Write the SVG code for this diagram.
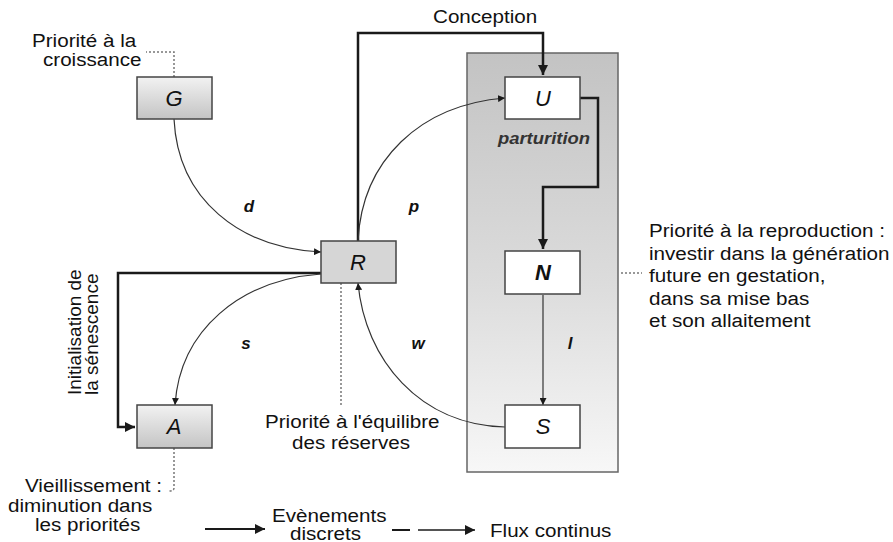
<svg xmlns="http://www.w3.org/2000/svg" width="893" height="542" viewBox="0 0 893 542">
<defs>
<linearGradient id="gBox" x1="0" y1="0" x2="0" y2="1">
<stop offset="0" stop-color="#f2f2f2"/>
<stop offset="1" stop-color="#c4c4c4"/>
</linearGradient>
<linearGradient id="gBig" x1="0" y1="0" x2="0" y2="1">
<stop offset="0" stop-color="#c3c3c3"/>
<stop offset="0.55" stop-color="#dcdcdc"/>
<stop offset="1" stop-color="#f7f7f7"/>
</linearGradient>
<marker id="ah" viewBox="0 0 10 10" refX="10" refY="5" markerWidth="7" markerHeight="7" markerUnits="userSpaceOnUse" orient="auto">
<path d="M0,0 L10,5 L0,10 z" fill="#1a1a1a"/>
</marker>
<marker id="ahL" viewBox="0 0 10 10" refX="10" refY="5" markerWidth="10" markerHeight="10" markerUnits="userSpaceOnUse" orient="auto">
<path d="M0,0 L10,5 L0,10 z" fill="#1a1a1a"/>
</marker>
</defs>
<style>
text{font-family:"Liberation Sans",Arial,sans-serif;fill:#111;}
.lbl{font-size:19px;}
.nd{font-size:22px;font-style:italic;text-anchor:middle;}
.ndb{font-size:22px;font-style:italic;font-weight:bold;text-anchor:middle;}
.var{font-size:17px;font-style:italic;font-weight:bold;text-anchor:middle;}
.box{stroke:#444;stroke-width:1.5;}
.thick{fill:none;stroke:#1a1a1a;stroke-width:2.5;}
.thin{fill:none;stroke:#333;stroke-width:1.2;}
.dot{fill:none;stroke:#777;stroke-width:1.5;stroke-dasharray:2,2;}
</style>
<rect id="zone" x="467" y="53" width="151" height="419" fill="url(#gBig)" stroke="#666" stroke-width="1.5"/>
<text transform="translate(544,144) scale(1.085,1)" style="font-size:17px;font-style:italic;font-weight:bold;fill:#333;text-anchor:middle">parturition</text>
<g id="connectors">
<path class="thick" d="M358,241 V33 H543 V75" marker-end="url(#ahL)"/>
<path class="thick" d="M580,98 H598 V187 H543 V249" marker-end="url(#ahL)"/>
<path class="thick" d="M321,273 H118 V427 H135" marker-end="url(#ahL)"/>
<path class="thin" d="M174,119 C178,200 240,248 321,252" marker-end="url(#ah)"/>
<path class="thin" d="M358,241 C362,160 420,105 505,98" marker-end="url(#ah)"/>
<path class="thin" d="M321,274 C240,280 180,330 175,405" marker-end="url(#ah)"/>
<path class="thin" d="M505,427 C420,425 365,360 358,283" marker-end="url(#ah)"/>
<path class="thin" d="M543,295 V405" marker-end="url(#ah)"/>
<path class="dot" d="M174,77 V52 H146"/>
<path class="dot" d="M341,283 V406"/>
<path class="dot" d="M174,448 V488 Q174,491 169,491"/>
<path class="dot" d="M621,273 H642"/>
</g>
<g id="G"><rect class="box" x="137" y="77" width="75" height="42" fill="url(#gBox)"/><text class="nd" x="174" y="106">G</text></g>
<g id="R"><rect class="box" x="321" y="241" width="75" height="42" fill="#d6d6d6"/><text class="nd" x="358" y="270">R</text></g>
<g id="A"><rect class="box" x="137" y="405" width="75" height="43" fill="url(#gBox)"/><text class="nd" x="174" y="434">A</text></g>
<g id="U"><rect class="box" x="505" y="77" width="75" height="42" fill="#ffffff"/><text class="nd" x="543" y="106">U</text></g>
<g id="N"><rect class="box" x="505" y="251" width="75" height="43" fill="#ffffff"/><text class="ndb" x="543" y="280">N</text></g>
<g id="S"><rect class="box" x="505" y="405" width="75" height="43" fill="#ffffff"/><text class="nd" x="543" y="434">S</text></g>
<g id="labels">
<text class="var" x="249" y="212">d</text>
<text class="var" x="414" y="212">p</text>
<text class="var" x="246" y="349">s</text>
<text class="var" x="418" y="349">w</text>
<text class="var" x="570" y="349">l</text>
<text class="lbl" transform="translate(32,47) scale(1.085,1)">Priorité à la</text>
<text class="lbl" transform="translate(43,66) scale(1.085,1)">croissance</text>
<text class="lbl" transform="translate(433,22.5) scale(1.085,1)">Conception</text>
<text class="lbl" transform="translate(265,428) scale(1.085,1)">Priorité à l'équilibre</text>
<text class="lbl" transform="translate(292,449) scale(1.085,1)">des réserves</text>
<text class="lbl" transform="translate(25,492) scale(1.085,1)">Vieillissement :</text>
<text class="lbl" transform="translate(8,512) scale(1.085,1)">diminution dans</text>
<text class="lbl" transform="translate(35,531) scale(1.085,1)">les priorités</text>
<text class="lbl" transform="translate(81,395) rotate(-90)">Initialisation de</text>
<text class="lbl" transform="translate(98,395) rotate(-90)">la sénescence</text>
<text class="lbl" transform="translate(649,237) scale(1.085,1)">Priorité à la reproduction :</text>
<text class="lbl" transform="translate(649,259.5) scale(1.085,1)">investir dans la génération</text>
<text class="lbl" transform="translate(649,282) scale(1.085,1)">future en gestation,</text>
<text class="lbl" transform="translate(649,304.5) scale(1.085,1)">dans sa mise bas</text>
<text class="lbl" transform="translate(649,327) scale(1.085,1)">et son allaitement</text>
</g>
<g id="legend">
<path class="thick" d="M205,529 H265" style="stroke-width:2" marker-end="url(#ahL)"/>
<text class="lbl" transform="translate(272,522) scale(1.085,1)">Evènements</text>
<text class="lbl" transform="translate(290,539.5) scale(1.085,1)">discrets</text>
<path d="M392,530 H410" stroke="#1a1a1a" stroke-width="2"/>
<path d="M418,530 H475" stroke="#1a1a1a" stroke-width="1.5" marker-end="url(#ahL)"/>
<text class="lbl" transform="translate(490,537) scale(1.085,1)">Flux continus</text>
</g>
</svg>
